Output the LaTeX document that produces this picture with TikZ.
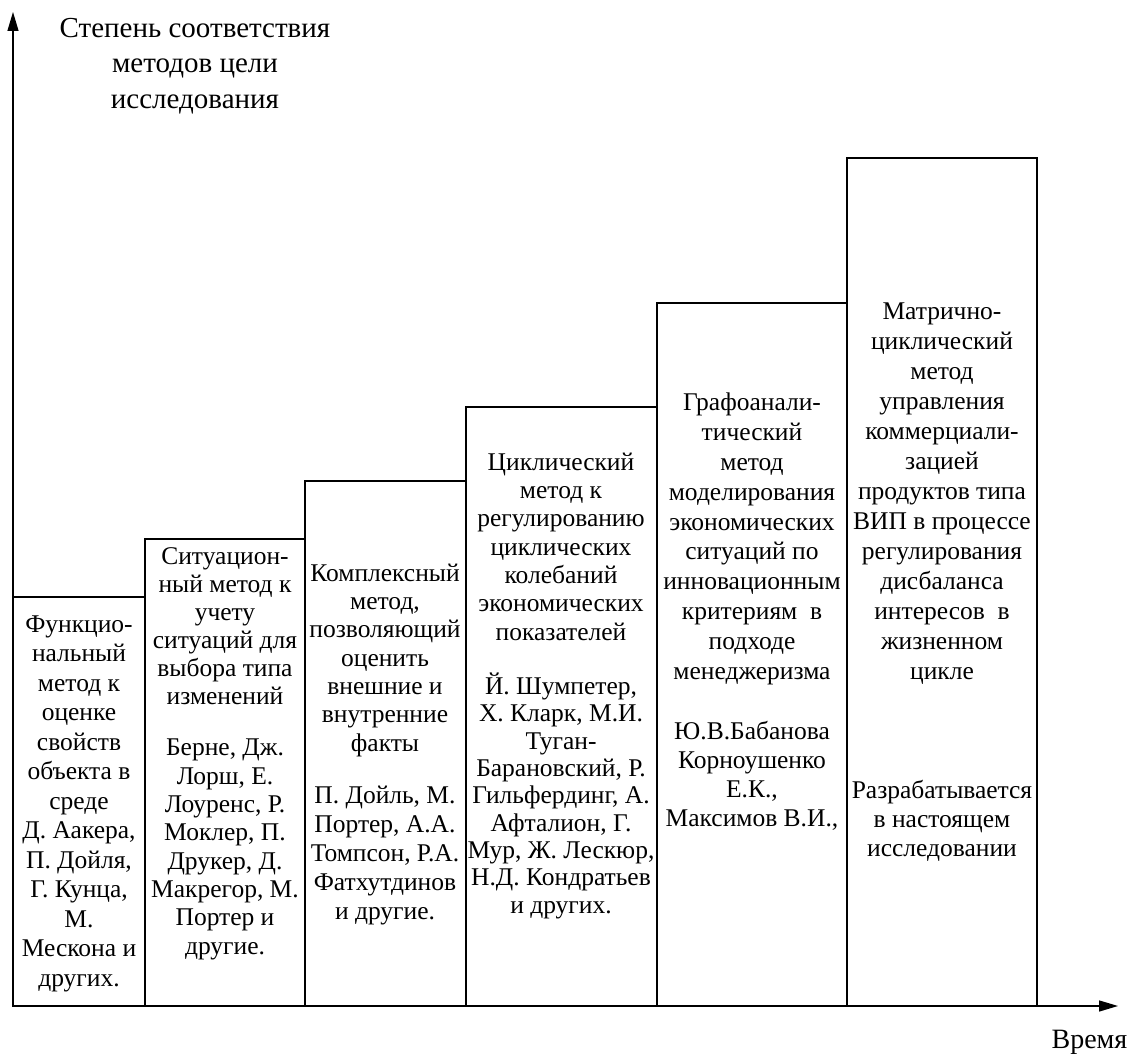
\documentclass[tikz,border=0pt]{standalone}
\usepackage{fontspec}
\setmainfont{Liberation Serif}
\usetikzlibrary{arrows.meta}
\tikzset{>={Triangle[length=19pt,width=11pt]}}
\tikzset{
  method/.style={align=center, inner sep=0pt, anchor=base},
  lines/.style={font=\fontsize{25.5}{#1}\selectfont},
}

\begin{document}
\begin{tikzpicture}[x=1pt,y=-1pt, line width=1.4pt]
    \useasboundingbox (0,0) rectangle (1130,1056);
    % axes
    \coordinate (O) at (13,1006);
    \coordinate (Ytip) at (13,12);
    \coordinate (Xtip) at (1118,1006);
    \draw[->] (O) -- (Ytip);
    \draw[->] (O) -- (Xtip);
    \node[align=center, font=\fontsize{29}{35.5}\selectfont] (ylabel) at (195,66)
        {Степень соответствия\\методов цели\\исследования};
    \node[font=\fontsize{28}{34}\selectfont, anchor=base east, inner sep=0pt] (xlabel) at (1128,1048) {Время};
    % bars
    \foreach \xa/\xb/\ytop [count=\i] in {13/145/597, 145/305/539, 305/466/481,
        466/657/407, 657/847/303, 847/1037/158}
      \draw (\xa,1006) rectangle (\xb,\ytop) coordinate (bar\i);
    % texts (anchored at the baseline of the last line)
    \node[method, lines=29.5] (m1) at (79,986)
        {Функцио-\\нальный\\метод к\\оценке\\свойств\\объекта в\\среде\\Д. Аакера,\\П. Дойля,\\Г. Кунца,\\М.\\Мескона и\\других.};
    \node[method, lines=28] (m2t) at (225,704)
        {Ситуацион-\\ный метод к\\учету\\ситуаций для\\выбора типа\\изменений};
    \node[method, lines=28.3] (m2a) at (225,954)
        {Берне, Дж.\\Лорш, Е.\\Лоуренс, Р.\\Моклер, П.\\Друкер, Д.\\Макрегор, М.\\Портер и\\другие.};
    \node[method, lines=28.3] (m3t) at (385,751)
        {Комплексный\\метод,\\позволяющий\\оценить\\внешние и\\внутренние\\факты};
    \node[method, lines=29] (m3a) at (385,919)
        {П. Дойль, М.\\Портер, А.А.\\Томпсон, Р.А.\\Фатхутдинов\\и другие.};
    \node[method, lines=28.3] (m4t) at (561,640)
        {Циклический\\метод к\\регулированию\\циклических\\колебаний\\экономических\\показателей};
    \node[method, lines=27.3] (m4a) at (561,913)
        {Й. Шумпетер,\\Х. Кларк, М.И.\\Туган-\\Барановский, Р.\\Гильфердинг, А.\\Афталион, Г.\\Мур, Ж. Лескюр,\\Н.Д. Кондратьев\\и других.};
    \node[method, lines=29.8] (m5t) at (752,679)
        {Графоанали-\\тический\\метод\\моделирования\\экономических\\ситуаций по\\инновационным\\критериям~~в\\подходе\\менеджеризма};
    \node[method, lines=29] (m5a) at (752,826)
        {Ю.В.Бабанова\\Корноушенко\\Е.К.,\\Максимов В.И.,};
    \node[method, lines=30] (m6t) at (942,679)
        {Матрично-\\циклический\\метод\\управления\\коммерциали-\\зацией\\продуктов типа\\ВИП в процессе\\регулирования\\дисбаланса\\интересов~~в\\жизненном\\цикле};
    \node[method, lines=29] (m6a) at (942,856)
        {Разрабатывается\\в настоящем\\исследовании};
\end{tikzpicture}
\end{document}
